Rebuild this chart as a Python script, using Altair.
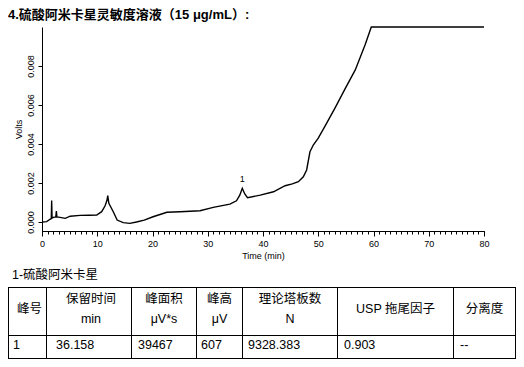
import altair as alt
import pandas as pd

# ---------------- data ----------------
time_min = [0.0, 0.85, 1.45, 1.68, 1.75, 1.82, 2.05, 2.5, 2.6, 2.7, 3.26, 4.2, 5.1, 6.9,
            8.5, 9.9, 10.8, 11.4, 11.75, 11.9, 12.1, 12.9, 13.6, 14.7, 15.9, 17.1,
            18.5, 20.1, 21.5, 22.6, 25.0, 28.6, 31.0, 34.0, 35.2, 35.8, 36.25, 36.7,
            37.2, 39.5, 41.9, 44.0, 45.3, 46.4, 47.3, 47.9, 48.5, 49.1, 50.0, 51.2,
            53.0, 54.8, 56.7, 58.5, 59.6, 80.0]
volts = [0.0, 0.00002, 0.00014, 0.00018, 0.0011, 0.0002, 0.00024, 0.00026, 0.00056,
         0.00026, 0.00024, 0.00019, 0.0003, 0.00034, 0.00035, 0.00036, 0.00053,
         0.00082, 0.0011, 0.00135, 0.00096, 0.00053, 0.0001, -0.00003, -0.00007, 0.0,
         0.0001, 0.00027, 0.0004, 0.0005, 0.00053, 0.00058, 0.00075, 0.00092, 0.00109,
         0.00138, 0.00173, 0.00144, 0.00125, 0.00138, 0.00155, 0.00186, 0.00196,
         0.00207, 0.00232, 0.00267, 0.0036, 0.00395, 0.0043, 0.0049, 0.00583, 0.0068,
         0.0078, 0.0091, 0.01, 0.01]

peak_time = [36.25]
peak_volts = [0.00173]
peak_label = ["1"]

x_major_ticks = [0, 10, 20, 30, 40, 50, 60, 70, 80]
x_minor_ticks = list(range(0, 81))
y_ticks = [0.0, 0.001, 0.002, 0.003, 0.004, 0.005, 0.006, 0.007, 0.008, 0.009]

title_text = "4.硫酸阿米卡星灵敏度溶液（15 μg/mL）:"
table_caption = "1-硫酸阿米卡星"
header_line1 = ["峰号", "保留时间", "峰面积", "峰高", "理论塔板数", "USP 拖尾因子", "分离度"]
header_line2 = ["", "min", "μV*s", "μV", "N", "", ""]
row_values = ["1", "36.158", "39467", "607", "9328.383", "0.903", "--"]

# ---------------- layout (pixels) ----------------
W, H = 442, 204
OX, OY = 42, 27                       # page position of plot origin
SVG_W, SVG_H = 508, 351
col_edges = [8, 46, 131, 196, 242, 337, 453, 515]   # table column lines (page px)
row_edges = [287, 335, 358]                          # table row lines (page px)
header_single_y, header_top_y, header_bot_y, data_y = 309, 299, 319, 345
cell_pads = [5, 10, 7, 5, 6, 7, 7]

FONT = "Liberation Sans, Arial, Noto Sans CJK SC"

trace = pd.DataFrame({"t": time_min, "v": volts})
peak = pd.DataFrame({"t": peak_time, "v": peak_volts, "label": peak_label})

x_scale = alt.Scale(domain=[0, 80], nice=False, zero=False)
y_scale = alt.Scale(domain=[-0.00046, 0.01], nice=False, zero=False)

y_enc = alt.Y("v:Q", scale=y_scale, title="Volts",
              axis=alt.Axis(values=y_ticks,
                            labelExpr="round(datum.value*1000) % 2 === 0 ? format(datum.value, '.3f') : ''",
                            labelAngle=270, labelAlign="center", labelBaseline="bottom",
                            tickSize=4, labelPadding=3, titlePadding=3,
                            labelOverlap=False, labelFlush=False))

# minor ticks axis on the line layer
line = alt.Chart(trace).mark_line(color="black", strokeWidth=1.4).encode(
    x=alt.X("t:Q", scale=x_scale, title=None,
            axis=alt.Axis(values=x_minor_ticks, labels=False, tickSize=3, orient="bottom")),
    y=y_enc)

# major ticks + labels axis on the peak-label layer
peak_txt = alt.Chart(peak).mark_text(font=FONT, fontSize=9, dy=-9, color="black").encode(
    x=alt.X("t:Q", scale=x_scale, title="Time (min)",
            axis=alt.Axis(values=x_major_ticks, tickSize=5, labelPadding=3, titlePadding=3,
                          orient="bottom", labelFlush=False, format="d")),
    y=alt.Y("v:Q", scale=y_scale),
    text="label:N")

# title and caption
title_df = pd.DataFrame({"text": [title_text]})
title_layer = alt.Chart(title_df).mark_text(
    font=FONT, fontSize=13, fontWeight="bold", align="left", baseline="middle", color="black"
).encode(x=alt.value(8 - OX), y=alt.value(15 - OY), text="text:N")

cap_df = pd.DataFrame({"text": [table_caption]})
cap_layer = alt.Chart(cap_df).mark_text(
    font=FONT, fontSize=12.5, align="left", baseline="middle", color="black"
).encode(x=alt.value(12 - OX), y=alt.value(275 - OY), text="text:N")

# table lines
hl = pd.DataFrame({
    "x1": [col_edges[0] - OX] * len(row_edges),
    "x2": [col_edges[-1] + 1 - OX] * len(row_edges),
    "y": [r + 0.5 - OY for r in row_edges],
})
vl = pd.DataFrame({
    "x": [c + 0.5 - OX for c in col_edges],
    "y1": [row_edges[0] - OY] * len(col_edges),
    "y2": [row_edges[-1] + 1 - OY] * len(col_edges),
})
hlines = alt.Chart(hl).mark_rule(color="black", strokeWidth=1).encode(
    x=alt.X("x1:Q", scale=None, axis=None), x2="x2:Q",
    y=alt.Y("y:Q", scale=None, axis=None))
vlines = alt.Chart(vl).mark_rule(color="black", strokeWidth=1).encode(
    x=alt.X("x:Q", scale=None, axis=None),
    y=alt.Y("y1:Q", scale=None, axis=None), y2="y2:Q")

# table texts
rows = []
for i in range(len(header_line1)):
    cx = (col_edges[i] + col_edges[i + 1]) / 2 + 0.5 - OX
    if i < 2:
        cx += 2
    if header_line2[i]:
        rows.append({"x": cx, "y": header_top_y - OY, "text": header_line1[i]})
        rows.append({"x": cx, "y": header_bot_y - OY, "text": header_line2[i]})
    else:
        rows.append({"x": cx, "y": header_single_y - OY, "text": header_line1[i]})
cells = pd.DataFrame(rows)
data_cells = pd.DataFrame({
    "x": [col_edges[i] + cell_pads[i] - OX for i in range(len(row_values))],
    "y": [data_y - OY] * len(row_values),
    "text": row_values,
})
head_txt = alt.Chart(cells).mark_text(font=FONT, fontSize=12.5, align="center",
                                      baseline="middle", color="black").encode(
    x=alt.X("x:Q", scale=None, axis=None), y=alt.Y("y:Q", scale=None, axis=None), text="text:N")
data_txt = alt.Chart(data_cells).mark_text(font=FONT, fontSize=12.5, align="left",
                                           baseline="middle", color="black").encode(
    x=alt.X("x:Q", scale=None, axis=None), y=alt.Y("y:Q", scale=None, axis=None), text="text:N")

chart = alt.layer(line, peak_txt, title_layer, cap_layer, hlines, vlines, head_txt, data_txt).resolve_axis(
    x="independent"
).properties(
    width=W, height=H,
    autosize=alt.AutoSizeParams(type="none"),
    padding={"left": OX - 8, "top": OY - 8, "right": SVG_W - (OX - 8) - W, "bottom": SVG_H - (OY - 8) - H},
    background="white",
).configure_view(strokeWidth=0).configure_axis(
    grid=False, domainColor="black", tickColor="black", labelColor="black", titleColor="black",
    labelFont=FONT, titleFont=FONT, labelFontSize=9, titleFontSize=9, titleFontWeight="normal",
    domainWidth=1, tickWidth=1,
)

chart.save("out.html", embed_options={"renderer": "svg", "actions": False})
